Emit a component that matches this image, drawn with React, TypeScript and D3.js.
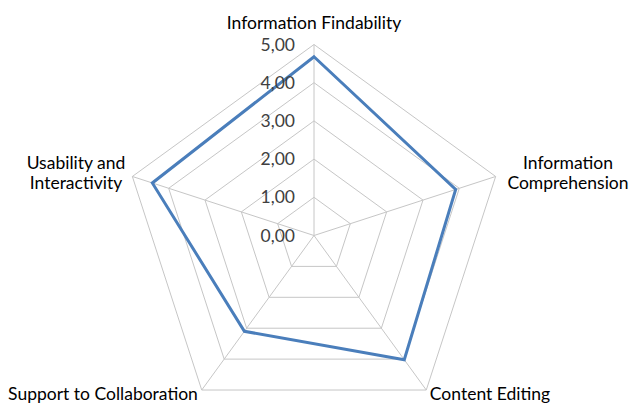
import React from "react";
import * as d3 from "d3";

const categories = [
  "Information Findability",
  "Information Comprehension",
  "Content Editing",
  "Support to Collaboration",
  "Usability and Interactivity",
];
const values = [4.68, 3.9, 4.02, 3.1, 4.45];
const ticks = [0, 1, 2, 3, 4, 5];
const tickLabels = ["0,00", "1,00", "2,00", "3,00", "4,00", "5,00"];

const W = 634;
const H = 403;
const cx = 314;
const cy = 235.5;
const R = 191;

const labelLayout: { x: number; y: number; lines: string[] }[] = [
  { x: 314, y: 29, lines: ["Information Findability"] },
  { x: 568, y: 169, lines: ["Information", "Comprehension"] },
  { x: 490, y: 400, lines: ["Content Editing"] },
  { x: 103, y: 400, lines: ["Support to Collaboration"] },
  { x: 76, y: 169, lines: ["Usability and", "Interactivity"] },
];

export default function App() {
  const r = d3.scaleLinear().domain([0, 5]).range([0, R]);
  const n = categories.length;
  const angle = (i: number) => (i * 2 * Math.PI) / n;
  const pt = (i: number, v: number): [number, number] => [
    cx + r(v) * Math.sin(angle(i)),
    cy - r(v) * Math.cos(angle(i)),
  ];
  const lineGen = d3.line<[number, number]>().curve(d3.curveLinearClosed);
  const font = "Lato, 'Open Sans', sans-serif";

  return (
    <svg
      width={W}
      height={H}
      style={{ position: "absolute", left: 0, top: 0, background: "#fff" }}
    >
      {ticks.slice(1).map((t) => (
        <path
          key={"g" + t}
          d={lineGen(categories.map((_, i) => pt(i, t))) || ""}
          fill="none"
          stroke="#c6c6c6"
          strokeWidth={1}
        />
      ))}
      {categories.map((_, i) => {
        const [x, y] = pt(i, 5);
        return (
          <line key={"s" + i} x1={cx} y1={cy} x2={x} y2={y} stroke="#c6c6c6" strokeWidth={1} />
        );
      })}
      <path
        d={lineGen(values.map((v, i) => pt(i, v))) || ""}
        fill="none"
        stroke="#4a7ebb"
        strokeWidth={3}
        strokeLinejoin="miter"
      />
      {ticks.map((t, k) => (
        <text
          key={"t" + t}
          x={cx - 19}
          y={cy - r(t)}
          dy="0.35em"
          textAnchor="end"
          fontFamily={font}
          fontSize={17.5}
          fill="#404040"
        >
          {tickLabels[k]}
        </text>
      ))}
      {labelLayout.map((l, i) => (
        <text
          key={"c" + i}
          x={l.x}
          y={l.y}
          textAnchor="middle"
          fontFamily={font}
          fontSize={17.5}
          fill="#000"
        >
          {l.lines.map((s, j) => (
            <tspan key={j} x={l.x} dy={j === 0 ? 0 : 20}>
              {s}
            </tspan>
          ))}
        </text>
      ))}
    </svg>
  );
}
